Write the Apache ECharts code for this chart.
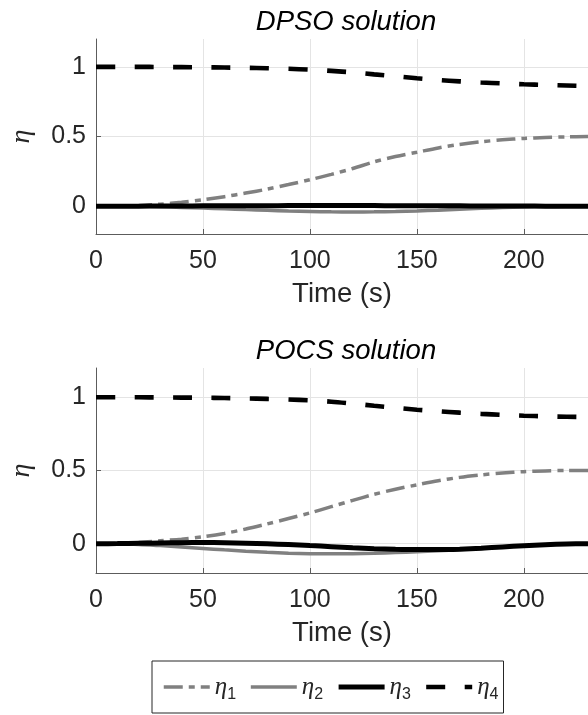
<!DOCTYPE html>
<html>
<head>
<meta charset="utf-8">
<script src="https://cdn.jsdelivr.net/npm/echarts@6/dist/echarts.min.js"></script>
<style>
  html, body { margin: 0; padding: 0; background: #ffffff; }
  #chart { width: 588px; height: 715px; }
</style>
</head>
<body>
<div id="chart"></div>
<script>
// Time samples (s)
const time = [0, 10, 20, 30, 40, 50, 60, 70, 80, 90, 100, 110, 120, 130, 140, 150, 160, 170, 180, 190, 200, 210, 220, 230];

// DPSO solution
const dpsoEta1 = [0, 0.001, 0.005, 0.014, 0.028, 0.046, 0.068, 0.094, 0.122, 0.155, 0.19, 0.228, 0.27, 0.318, 0.356, 0.387, 0.418, 0.443, 0.462, 0.476, 0.486, 0.493, 0.497, 0.5];
const dpsoEta2 = [0, 0, -0.001, -0.005, -0.009, -0.014, -0.019, -0.025, -0.03, -0.035, -0.038, -0.041, -0.042, -0.041, -0.039, -0.035, -0.029, -0.022, -0.016, -0.01, -0.006, -0.003, -0.001, 0];
const dpsoEta3 = [0, 0, 0, 0.001, 0.001, 0.002, 0.002, 0.003, 0.003, 0.004, 0.004, 0.004, 0.004, 0.004, 0.003, 0.003, 0.002, 0.002, 0.001, 0.001, 0.001, 0, 0, 0];
const dpsoEta4 = [1, 1, 1, 0.999, 0.998, 0.997, 0.995, 0.993, 0.99, 0.986, 0.98, 0.971, 0.96, 0.946, 0.932, 0.918, 0.906, 0.896, 0.888, 0.881, 0.875, 0.87, 0.866, 0.862];

// POCS solution
const pocsEta1 = [0, 0.002, 0.009, 0.02, 0.031, 0.047, 0.07, 0.1, 0.135, 0.172, 0.21, 0.253, 0.296, 0.337, 0.372, 0.402, 0.43, 0.453, 0.47, 0.483, 0.492, 0.497, 0.5, 0.5];
const pocsEta2 = [0, -0.001, -0.005, -0.013, -0.022, -0.032, -0.042, -0.051, -0.059, -0.065, -0.068, -0.069, -0.068, -0.065, -0.06, -0.055, -0.048, -0.04, -0.032, -0.022, -0.014, -0.007, -0.002, 0];
const pocsEta3 = [0, 0.001, 0.003, 0.005, 0.007, 0.008, 0.007, 0.004, 0, -0.006, -0.013, -0.02, -0.028, -0.034, -0.038, -0.04, -0.04, -0.037, -0.031, -0.022, -0.014, -0.007, -0.002, 0];
const pocsEta4 = [1, 1, 1, 0.999, 0.998, 0.997, 0.995, 0.992, 0.989, 0.985, 0.979, 0.97, 0.957, 0.942, 0.928, 0.915, 0.905, 0.895, 0.887, 0.88, 0.874, 0.87, 0.867, 0.865];

// Axis ticks and labels
const yTicks = [0, 0.5, 1];
const panelTitles = ['DPSO solution', 'POCS solution'];
const seriesNames = ['η1', 'η2', 'η3', 'η4'];
const xLabel = 'Time (s)';
const yLabel = 'η';

const panels = [
  [dpsoEta1, dpsoEta2, dpsoEta3, dpsoEta4],
  [pocsEta1, pocsEta2, pocsEta3, pocsEta4]
];

const textColor = '#262626';
const gridColor = '#e4e4e4';
const axisColor = '#5c5c5c';

const lineStyles = [
  { color: '#808080', width: 3.5, type: [19, 6, 6, 6], cap: 'butt' },
  { color: '#808080', width: 3.5, type: 'solid' },
  { color: '#000000', width: 5, type: 'solid' },
  { color: '#000000', width: 4.6, type: [19, 19.5], cap: 'butt' }
];

const gridBoxes = [
  { left: 87, top: 39, width: 506, height: 195 },
  { left: 88, top: 368, width: 506, height: 205 }
];

function pairs(values) {
  return time.map((t, i) => [t, values[i]]);
}

const chart = echarts.init(document.getElementById('chart'), null, { renderer: 'canvas' });

const series = [];
panels.forEach((panel, p) => {
  panel.forEach((values, k) => {
    series.push({
      name: seriesNames[k],
      type: 'line',
      xAxisIndex: p,
      yAxisIndex: p,
      data: pairs(values),
      smooth: 0.3,
      showSymbol: false,
      symbol: 'none',
      silent: true,
      animation: false,
      clip: true,
      color: lineStyles[k].color,
      lineStyle: lineStyles[k]
    });
  });
});

const option = {
  backgroundColor: '#ffffff',
  animation: false,
  textStyle: { fontFamily: 'Liberation Sans, Arial, sans-serif' },
  title: panelTitles.map((txt, p) => ({
    text: txt,
    left: 341,
    top: p === 0 ? 4 : 333,
    textAlign: 'center',
    textStyle: {
      fontFamily: 'Liberation Sans, Arial, sans-serif',
      fontStyle: 'italic',
      fontWeight: 'normal',
      fontSize: 27.5,
      color: '#000000'
    }
  })),
  grid: gridBoxes.map(g => Object.assign({ containLabel: false }, g)),
  xAxis: gridBoxes.map((g, p) => ({
    type: 'value',
    gridIndex: p,
    min: 0,
    max: 230,
    interval: 50,
    name: xLabel,
    nameLocation: 'middle',
    nameGap: 46,
    nameTextStyle: { fontSize: 27.5, color: textColor },
    axisLine: { show: true, onZero: false, lineStyle: { color: axisColor, width: 1 } },
    axisTick: { show: true, inside: true, length: 5, lineStyle: { color: axisColor, width: 1 } },
    axisLabel: { fontSize: 25, color: textColor, margin: 15, showMaxLabel: false },
    splitLine: { show: true, lineStyle: { color: gridColor, width: 1 } }
  })),
  yAxis: gridBoxes.map((g, p) => ({
    type: 'value',
    gridIndex: p,
    min: -0.2,
    max: 1.2,
    name: yLabel,
    nameLocation: 'middle',
    nameRotate: 90,
    nameGap: 60,
    nameTextStyle: { fontSize: 28, fontStyle: 'italic', fontFamily: 'Liberation Serif, serif', color: textColor },
    axisLine: { show: true, onZero: false, lineStyle: { color: axisColor, width: 1 } },
    axisTick: { show: true, inside: true, length: 5, customValues: yTicks, lineStyle: { color: axisColor, width: 1 } },
    axisLabel: { fontSize: 25, color: textColor, margin: 10, customValues: yTicks, formatter: v => String(v) },
    splitLine: { show: true, lineStyle: { color: gridColor, width: 1 } }
  })),
  legend: {
    data: seriesNames,
    orient: 'horizontal',
    left: 152,
    top: 661,
    padding: [10, 5, 10, 10],
    itemGap: 13,
    itemWidth: 46,
    itemHeight: 14,
    itemStyle: { opacity: 0 },
    lineStyle: { width: 'inherit', type: 'inherit' },
    borderColor: '#262626',
    borderWidth: 1,
    backgroundColor: '#ffffff',
    selectedMode: false,
    formatter: name => '{g|η}{s|' + name.slice(1) + '}',
    textStyle: {
      color: textColor,
      rich: {
        g: { fontFamily: 'Liberation Serif, serif', fontStyle: 'italic', fontSize: 25, color: textColor, lineHeight: 30 },
        s: { fontFamily: 'Liberation Sans, Arial, sans-serif', fontSize: 16, color: textColor, padding: [16, 0, 0, 0], lineHeight: 30 }
      }
    }
  },
  series: series
};

chart.setOption(option);
</script>
</body>
</html>
